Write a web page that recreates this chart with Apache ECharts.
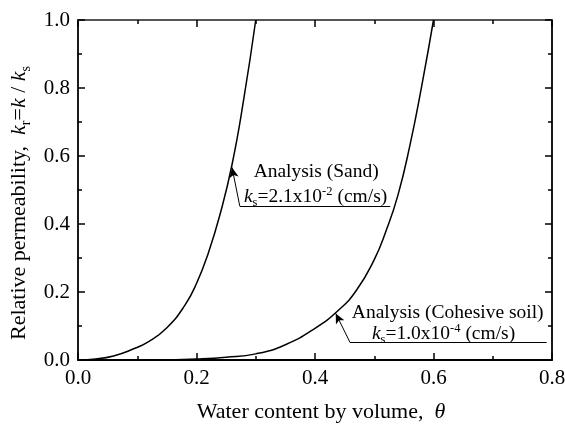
<!DOCTYPE html>
<html>
<head>
<meta charset="utf-8">
<script src="https://cdn.jsdelivr.net/npm/echarts@6/dist/echarts.min.js"></script>
<style>
html,body{margin:0;padding:0;background:#fff;}
#chart{width:565px;height:424px;}
</style>
</head>
<body>
<div id="chart"></div>
<script>
// ---- data ----
var xTicks = [0.0, 0.2, 0.4, 0.6, 0.8];
var yTicks = [0.0, 0.2, 0.4, 0.6, 0.8, 1.0];
var sandTheta = [0.00, 0.03, 0.06, 0.09, 0.12, 0.15, 0.18, 0.20, 0.22, 0.24, 0.26, 0.28, 0.30];
var sandKr    = [0.000, 0.003, 0.012, 0.030, 0.055, 0.095, 0.160, 0.225, 0.315, 0.430, 0.575, 0.770, 1.000];
var clayTheta = [0.13, 0.20, 0.25, 0.30, 0.35, 0.40, 0.44, 0.47, 0.50, 0.52, 0.54, 0.56, 0.58, 0.60];
var clayKr    = [0.000, 0.003, 0.008, 0.018, 0.045, 0.093, 0.147, 0.205, 0.295, 0.380, 0.485, 0.630, 0.805, 1.000];
// annotation anchor points (data coordinates)
var sandArrow = [[0.273, 0.453], [0.260, 0.566]];
var sandUnder = [[0.273, 0.453], [0.527, 0.453]];
var sandText1 = [0.402, 0.552];
var sandText2 = [0.401, 0.480];
var clayArrow = [[0.459, 0.052], [0.435, 0.137]];
var clayUnder = [[0.459, 0.052], [0.791, 0.052]];
var clayText1 = [0.624, 0.140];
var clayText2 = [0.617, 0.076];

function zip(a, b) { return a.map(function (v, i) { return [v, b[i]]; }); }

var FONT = 'Liberation Serif';
var richBase = {
  n: { fontFamily: FONT, fontSize: 22, color: '#000', lineHeight: 28, verticalAlign: 'middle' },
  i: { fontFamily: FONT, fontSize: 22, color: '#000', fontStyle: 'italic', lineHeight: 28, verticalAlign: 'middle' },
  sub: { fontFamily: FONT, fontSize: 14, color: '#000', verticalAlign: 'bottom' },
  sup: { fontFamily: FONT, fontSize: 14, color: '#000', verticalAlign: 'top' }
};
var richAnn = {
  n: { fontFamily: FONT, fontSize: 19.5, color: '#000', lineHeight: 24, verticalAlign: 'middle' },
  i: { fontFamily: FONT, fontSize: 19.5, color: '#000', fontStyle: 'italic', lineHeight: 24, verticalAlign: 'middle' },
  sub: { fontFamily: FONT, fontSize: 12.5, color: '#000', verticalAlign: 'bottom' },
  sup: { fontFamily: FONT, fontSize: 12.5, color: '#000', verticalAlign: 'top' }
};

function textPoint(coord, txt) {
  return {
    coord: coord, symbol: 'circle', symbolSize: 1,
    itemStyle: { color: 'rgba(0,0,0,0)' },
    label: { show: true, position: 'inside', formatter: txt, rich: richAnn }
  };
}
function annLine(a, b, arrow) {
  return [
    { coord: a, symbol: 'none' },
    { coord: b, symbol: arrow ? 'arrow' : 'none', symbolSize: arrow ? [7, 10] : 0 }
  ];
}

var axisLine = { show: true, onZero: false, lineStyle: { color: '#000', width: 1.8 } };
var majorTick = { show: true, inside: true, length: 7, lineStyle: { color: '#000', width: 1.5 } };
var minorTick = { show: true, splitNumber: 2, length: 4, lineStyle: { color: '#000', width: 1.5 } };

var option = {
  animation: false,
  backgroundColor: '#fff',
  grid: { left: 78, right: 13, top: 20, bottom: 64, containLabel: false, outerBoundsMode: 'none' },
  xAxis: [
    {
      type: 'value', position: 'bottom', min: xTicks[0], max: xTicks[xTicks.length - 1], interval: 0.2,
      axisLine: axisLine, axisTick: majorTick, minorTick: minorTick, splitLine: { show: false },
      axisLabel: { fontFamily: FONT, fontSize: 21, color: '#000', margin: 8,
        formatter: function (v) { return v.toFixed(1); } },
      name: '{n|Water content by volume,  }{i|θ}', nameLocation: 'middle', nameGap: 38,
      nameTextStyle: { rich: richBase, padding: [0, 0, 0, 12] }
    },
    {
      type: 'value', position: 'top', min: xTicks[0], max: xTicks[xTicks.length - 1], interval: 0.2,
      axisLine: { show: true, onZero: false, lineStyle: { color: '#555', width: 2 } },
      axisTick: majorTick, minorTick: minorTick, splitLine: { show: false },
      axisLabel: { show: false }
    }
  ],
  yAxis: [
    {
      type: 'value', position: 'left', min: yTicks[0], max: yTicks[yTicks.length - 1], interval: 0.2,
      axisLine: axisLine, axisTick: majorTick, minorTick: minorTick, splitLine: { show: false },
      axisLabel: { fontFamily: FONT, fontSize: 21, color: '#000', margin: 8,
        formatter: function (v) { return v.toFixed(1); } },
      name: '{n|Relative permeability,  }{i|k}{sub|r}{n|=}{i|k}{n| / }{i|k}{sub|s}',
      nameLocation: 'middle', nameGap: 44,
      nameTextStyle: { rich: richBase, padding: [0, 26, 0, 0] }
    },
    {
      type: 'value', position: 'right', min: yTicks[0], max: yTicks[yTicks.length - 1], interval: 0.2,
      axisLine: axisLine, axisTick: majorTick, minorTick: minorTick, splitLine: { show: false },
      axisLabel: { show: false }
    }
  ],
  series: [
    {
      name: 'Sand', type: 'line', xAxisIndex: 0, yAxisIndex: 0,
      data: zip(sandTheta, sandKr), smooth: 0.5, showSymbol: false, clip: true,
      lineStyle: { color: '#000', width: 1.5 },
      markLine: {
        silent: true, animation: false, label: { show: false },
        lineStyle: { color: '#000', width: 1, type: 'solid' },
        data: [annLine(sandArrow[0], sandArrow[1], true), annLine(sandUnder[0], sandUnder[1], false)]
      },
      markPoint: {
        silent: true, animation: false,
        data: [
          textPoint(sandText1, '{n|Analysis (Sand)}'),
          textPoint(sandText2, '{i|k}{sub|s}{n|=2.1x10}{sup|-2}{n| (cm/s)}')
        ]
      }
    },
    {
      name: 'Cohesive soil', type: 'line', xAxisIndex: 0, yAxisIndex: 0,
      data: zip(clayTheta, clayKr), smooth: 0.5, showSymbol: false, clip: true,
      lineStyle: { color: '#000', width: 1.5 },
      markLine: {
        silent: true, animation: false, label: { show: false },
        lineStyle: { color: '#000', width: 1, type: 'solid' },
        data: [annLine(clayArrow[0], clayArrow[1], true), annLine(clayUnder[0], clayUnder[1], false)]
      },
      markPoint: {
        silent: true, animation: false,
        data: [
          textPoint(clayText1, '{n|Analysis (Cohesive soil)}'),
          textPoint(clayText2, '{i|k}{sub|s}{n|=1.0x10}{sup|-4}{n| (cm/s)}')
        ]
      }
    }
  ]
};

var chart = echarts.init(document.getElementById('chart'), null, { renderer: 'canvas' });
chart.setOption(option);
</script>
</body>
</html>
